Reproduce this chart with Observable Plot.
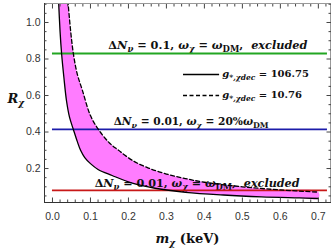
<!DOCTYPE html>
<html><head><meta charset="utf-8">
<script src="https://cdn.jsdelivr.net/npm/d3@7"></script>
<script src="https://cdn.jsdelivr.net/npm/@observablehq/plot@0.6"></script>
<style>html,body{margin:0;padding:0;background:#fff;} svg text{white-space:pre;}</style>
</head><body><div id="chart"></div>
<script>
// ---- data ----
const solidM  = [0.016,0.02,0.024,0.03,0.037,0.045,0.055,0.065,0.074,0.085,0.1,0.12,0.157,0.21,0.27,0.35,0.45,0.55,0.65,0.7];
const solidR  = [1.12,0.95,0.83,0.70,0.57,0.48,0.414,0.35,0.30,0.26,0.227,0.195,0.162,0.12,0.092,0.07,0.055,0.045,0.039,0.036];
const dashedM = [0.0405,0.048,0.055,0.065,0.079,0.1,0.121,0.15,0.174,0.21,0.25,0.3,0.35,0.4,0.5,0.6,0.7];
const dashedR = [1.12,0.95,0.83,0.72,0.627,0.49,0.414,0.34,0.30,0.245,0.205,0.17,0.145,0.125,0.1,0.083,0.071];
const hLineR     = [0.83, 0.414, 0.08];
const hLineColor = ["#22a622", "#1c1caa", "#c81818"];
const hLineFrom  = [0, 0, 0];
const hLineTo    = [0.724, 0.724, 0.724];
const xTicks = [0,0.1,0.2,0.3,0.4,0.5,0.6,0.7];
const xTickLabels = ["0.0","0.1","0.2","0.3","0.4","0.5","0.6","0.7"];
const yTicks = [0.2,0.4,0.6,0.8,1.0];
const yTickLabels = ["0.2","0.4","0.6","0.8","1.0"];
const xMinor = [0.02,0.04,0.06,0.08,0.12,0.14,0.16,0.18,0.22,0.24,0.26,0.28,0.32,0.34,0.36,0.38,0.42,0.44,0.46,0.48,0.52,0.54,0.56,0.58,0.62,0.64,0.66,0.68,0.72];
const yMinor = [0.05,0.1,0.15,0.25,0.3,0.35,0.45,0.5,0.55,0.65,0.7,0.75,0.85,0.9,0.95,1.05,1.1];
const legendLineR    = [0.715, 0.60];
const legendLineFrom = [0.345, 0.345];
const legendLineTo   = [0.44, 0.44];
const legendDash     = ["none", "4,2.5"];
const labelKeys = ["L1","LG1","LG2","L3","L4"];
const labelM    = [0.147, 0.447, 0.447, 0.161, 0.111];
const labelR    = [0.856, 0.70, 0.584, 0.44, 0.098];
const labelSize = [11.3, 10, 10, 10.6, 11.2];
const richText = {
  L1:  [["Δ","b"],["N","bi"],["ν","bis"],[" = 0.1, ","b"],["ω","bi"],["χ","bis"],[" = ","b"],["ω","bi"],["DM","bs"],[",  ","b"],["excluded","bi"]],
  LG1: [["g","bi"],["*,χdec","bis"],[" = 106.75","b"]],
  LG2: [["g","bi"],["*,χdec","bis"],[" = 10.76","b"]],
  L3:  [["Δ","b"],["N","bi"],["ν","bis"],[" = 0.01, ","b"],["ω","bi"],["χ","bis"],[" = 20%","b"],["ω","bi"],["DM","bs"]],
  L4:  [["Δ","b"],["N","bi"],["ν","bis"],[" = 0.01, ","b"],["ω","bi"],["χ","bis"],[" = ","b"],["ω","bi"],["DM","bs"],[",  ","b"],["excluded","bi"]],
  XL:  [["m","bi"],["χ","bis"],[" (keV)","b"]],
  YL:  [["R","bi"],["χ","bis"]]
};

// ---- build tables ----
const solid = solidM.map((m,i)=>({m, r: solidR[i]}));
const dashed = dashedM.map((m,i)=>({m, r: dashedR[i]}));
const band = solid.concat(dashed.slice().reverse());
const hLines = hLineR.map((r,i)=>({r, c: hLineColor[i], a: hLineFrom[i], b: hLineTo[i]}));
const legendLines = legendLineR.map((r,i)=>({r, a: legendLineFrom[i], b: legendLineTo[i], d: legendDash[i]}));
const labels = labelKeys.map((k,i)=>({k, m: labelM[i], r: labelR[i], s: labelSize[i]}));

const serif = "DejaVu Serif";
const sans = "Liberation Sans";
const axisGray = "#444";

const tickAxes = [];
for (const [anchor, isX] of [["bottom",true],["top",true],["left",false],["right",false]]) {
  const A = isX ? Plot.axisX : Plot.axisY;
  tickAxes.push(A(isX ? xMinor : yMinor, {anchor, tickSize: -2.5, fill: "none", label: null, stroke: axisGray}));
  tickAxes.push(A(isX ? xTicks : yTicks, {anchor, tickSize: -4.5, fill: "none", label: null, stroke: axisGray}));
}

const plot = Plot.plot({
  width: 336, height: 250,
  marginLeft: 44, marginRight: 6, marginTop: 3, marginBottom: 48,
  style: {background: "#fff", overflow: "visible"},
  x: {domain: [-0.021, 0.732]},
  y: {domain: [0.014, 1.104]},
  marks: [
    Plot.line(band, {x: "m", y: "r", fill: "#ff7cff", stroke: "none", curve: "catmull-rom", clip: true}),
    Plot.text(labels, {x: "m", y: "r", text: "k", textAnchor: "start", lineAnchor: "bottom", fontFamily: serif, fontSize: "s", fill: "#111"}),
    Plot.ruleY(hLines, {y: "r", x1: "a", x2: "b", stroke: "c", strokeWidth: 1.8}),
    Plot.line(solid, {x: "m", y: "r", stroke: "#000", strokeWidth: 1.3, curve: "catmull-rom", clip: true}),
    Plot.line(dashed, {x: "m", y: "r", stroke: "#000", strokeWidth: 1.3, strokeDasharray: "4,2.5", curve: "catmull-rom", clip: true}),
    Plot.ruleY(legendLines.slice(0,1), {y: "r", x1: "a", x2: "b", stroke: "#000", strokeWidth: 1.3}),
    Plot.ruleY(legendLines.slice(1), {y: "r", x1: "a", x2: "b", stroke: "#000", strokeWidth: 1.3, strokeDasharray: "4,2.5"}),
    Plot.frame({stroke: "#999"}),
    Plot.frame({anchor: "left", stroke: "#333"}),
    Plot.frame({anchor: "bottom", stroke: "#333"}),
    ...tickAxes,
    Plot.axisX(xTicks, {anchor: "bottom", tickSize: 0, tickPadding: 10, tickFormat: (d,i)=>xTickLabels[i], fontSize: 10.5, fontFamily: sans, fill: "#333", label: null}),
    Plot.axisY(yTicks, {anchor: "left", tickSize: 0, tickPadding: 4, tickFormat: (d,i)=>yTickLabels[i], fontSize: 10.5, fontFamily: sans, fill: "#333", label: null}),
    Plot.text(["XL"], {frameAnchor: "bottom", dy: 40, text: d=>d, textAnchor: "middle", lineAnchor: "bottom", fontFamily: serif, fontSize: 13, fill: "#111"}),
    Plot.text(["YL"], {frameAnchor: "left", dx: -37, dy: 0, text: d=>d, textAnchor: "start", lineAnchor: "bottom", fontFamily: serif, fontSize: 13, fill: "#111"})
  ]
});

// rich text (sub-scripts, bold/italic) applied to the Plot text marks
plot.querySelectorAll("text").forEach(t => {
  const segs = richText[t.textContent];
  if (!segs) return;
  const fs = parseFloat(t.getAttribute("font-size") || getComputedStyle(t).fontSize) || 12;
  t.textContent = "";
  let shifted = false;
  for (const [s, f] of segs) {
    const ts = document.createElementNS("http://www.w3.org/2000/svg", "tspan");
    ts.textContent = s;
    if (f.includes("b")) ts.setAttribute("font-weight", "bold");
    if (f.includes("i")) ts.setAttribute("font-style", "italic");
    const sub = f.includes("s");
    if (sub && !shifted) { ts.setAttribute("dy", (0.28*fs).toFixed(2)); shifted = true; }
    else if (!sub && shifted) { ts.setAttribute("dy", (-0.28*fs).toFixed(2)); shifted = false; }
    if (sub) ts.setAttribute("font-size", (0.75*fs).toFixed(2));
    t.appendChild(ts);
  }
});
document.getElementById("chart").appendChild(plot);
</script></body></html>
